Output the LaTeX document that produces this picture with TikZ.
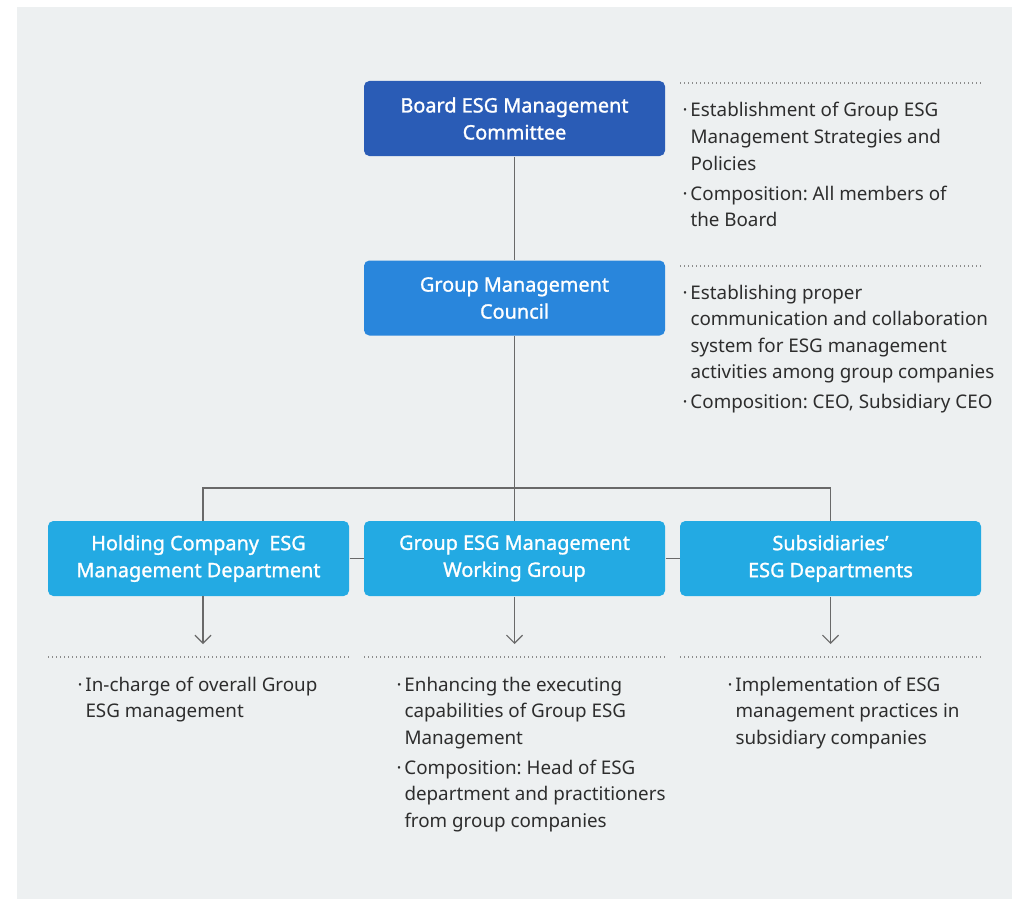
\documentclass[tikz,border=0pt]{standalone}
\usepackage{fontspec}
\setmainfont{Noto Sans}
\newfontfamily\boxfont{Noto Sans}[FakeBold=1.3]
\usetikzlibrary{arrows.meta}
\frenchspacing

\definecolor{bgGray}{RGB}{237,240,241}
\definecolor{boardBlue}{RGB}{42,92,182}
\definecolor{councilBlue}{RGB}{41,134,220}
\definecolor{deptBlue}{RGB}{35,170,227}
\definecolor{lineGray}{RGB}{105,105,105}
\definecolor{dotGray}{RGB}{140,140,140}
\definecolor{txtGray}{RGB}{45,45,45}

\newcommand{\bul}[1]{\par{\let\\\newline\hangindent=6pt\hangafter=1\noindent\makebox[6pt][l]{·}#1\par}}
\newcommand{\bulgap}{\vspace{2.6pt}}
\newcommand{\notetext}[1]{\parbox[t]{250pt}{\raggedright #1}}

\tikzset{
  every picture/.style={line width=0.75pt},
  orgbox/.style={rounded corners=4pt, draw=none, text=white, minimum width=225.75pt,
    minimum height=56.25pt, align=center, inner sep=0pt,
    font={\fontsize{14.9}{20.25}\selectfont\boxfont}},
  note/.style={anchor=base west, inner sep=0pt, text=txtGray,
    font={\fontsize{14.1}{19.9}\selectfont}},
  link/.style={draw=lineGray, line width=1pt},
  dotline/.style={draw=dotGray, line width=0.9pt, dash pattern=on 0.75pt off 2.25pt},
  down/.style={link, -{Straight Barb[length=6pt, width=12pt, line width=0.9pt]}}
}

\begin{document}
\begin{tikzpicture}[x=0.75pt,y=0.75pt,yscale=-1,xscale=1]
% canvas
\path[use as bounding box] (0,0) rectangle (1018,899);
\fill[bgGray] (17,7) rectangle (1012,899);

% boxes
\node[orgbox, fill=boardBlue] (board) at (514.5,118.5) {Board ESG Management\\Committee};
\node[orgbox, fill=councilBlue] (council) at (514.5,298) {Group Management\\Council};
\node[orgbox, fill=deptBlue] (hold) at (198.5,558.5) {Holding Company~ ESG\\Management Department};
\node[orgbox, fill=deptBlue] (wg) at (514.5,558.5) {Group ESG Management\\Working Group};
\node[orgbox, fill=deptBlue] (sub) at (830.5,558.5) {Subsidiaries’\\ESG Departments};

% connectors
\coordinate (bus) at (514.5,488);
\coordinate (holdtop) at (203,521);
\coordinate (holdbot) at (203,596);
\coordinate (holdarr) at (203,644);
\coordinate (wgarr) at (514.5,644);
\coordinate (subarr) at (830.5,644);
\draw[link] (board) -- (council);
\draw[link] (council) -- (wg);
\draw[link] (holdtop) |- (bus) -| (sub.north);
\draw[link] (hold.east) -- (wg.west);
\draw[link] (wg.east) -- (sub.west);
\draw[down] (holdbot) -- (holdarr);
\draw[down] (wg.south) -- (wgarr);
\draw[down] (sub.south) -- (subarr);

% dotted rules
\draw[dotline] (680,83) -- (981,83);
\draw[dotline] (680,266) -- (981,266);
\draw[dotline] (48,657) -- (349,657);
\draw[dotline] (364,657) -- (665,657);
\draw[dotline] (680,657) -- (981,657);

% notes
\node[note] (boardnote) at (682,117) {\notetext{%
  \bul{Establishment of Group ESG\\Management Strategies and\\Policies}\bulgap
  \bul{Composition: All members of\\the Board}}};
\node[note] (councilnote) at (682,299) {\notetext{%
  \bul{Establishing proper\\communication and collaboration\\system for ESG management\\activities among group companies}\bulgap
  \bul{Composition: CEO, Subsidiary CEO}}};
\node[note] (holdnote) at (77,691) {\notetext{%
  \bul{In-charge of overall Group\\ESG management}}};
\node[note] (wgnote) at (396,691) {\notetext{%
  \bul{Enhancing the executing\\capabilities of Group ESG\\Management}\bulgap
  \bul{Composition: Head of ESG\\department and practitioners\\from group companies}}};
\node[note] (subnote) at (727,691) {\notetext{%
  \bul{Implementation of ESG\\management practices in\\subsidiary companies}}};

\end{tikzpicture}
\end{document}
